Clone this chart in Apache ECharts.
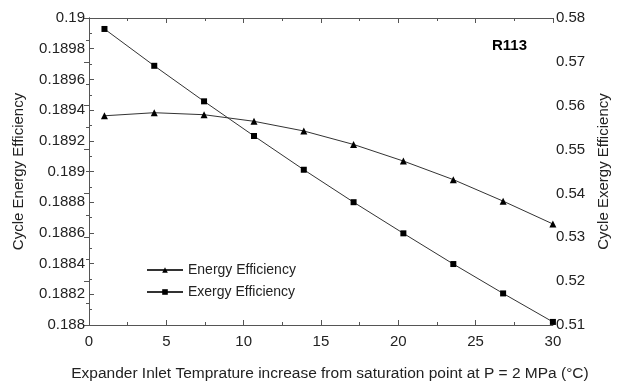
<!DOCTYPE html>
<html>
<head>
<meta charset="utf-8">
<script src="https://cdn.jsdelivr.net/npm/echarts@6/dist/echarts.min.js"></script>
<style>
html,body{margin:0;padding:0;background:#fff;}
#chart{width:619px;height:387px;}
</style>
</head>
<body>
<div id="chart"></div>
<script>
var xValues = [1, 4.22, 7.44, 10.67, 13.89, 17.11, 20.33, 23.56, 26.78, 30];
var energyEff = [0.189363, 0.189383, 0.18937, 0.189327, 0.189264, 0.189176, 0.189068, 0.188947, 0.188807, 0.188658];
var exergyEff = [0.5775, 0.5691, 0.5610, 0.5531, 0.5454, 0.5380, 0.5309, 0.5239, 0.5172, 0.5107];
var xTitle = 'Expander Inlet Temprature increase from saturation point at P = 2 MPa (\u00b0C)';
var leftTitle = 'Cycle Energy Efficiency';
var rightTitle = 'Cycle Exergy Efficiency';
var seriesNames = ['Energy Efficiency', 'Exergy Efficiency'];
var label = 'R113';

function pairs(xs, ys){ return xs.map(function(x,i){ return [x, ys[i]]; }); }

var font = 'Liberation Sans, Arial, sans-serif';
var axisColor = '#555';
var chart = echarts.init(document.getElementById('chart'));
chart.setOption({
  animation: false,
  backgroundColor: '#fff',
  textStyle: {fontFamily: font},
  grid: {left: 89, right: 63, top: 18, bottom: 60, containLabel: false},
  graphic: [{
    type: 'text', left: 492, top: 38,
    style: {text: label, font: 'bold 15px ' + font, fill: '#000'}
  }],
  legend: {
    left: 141, top: 258, orient: 'vertical', itemGap: 8,
    itemWidth: 36, itemHeight: 7,
    textStyle: {fontSize: 14, color: '#222', fontFamily: font},
    data: seriesNames
  },
  xAxis: [{
    type: 'value', min: 0, max: 30, interval: 5, position: 'bottom',
    name: xTitle, nameLocation: 'middle', nameGap: 41,
    nameTextStyle: {fontSize: 15.5, color: '#222', padding: [0,0,0,18]},
    axisLine: {show: true, lineStyle: {color: axisColor}},
    axisTick: {show: true, inside: true, length: 5, lineStyle: {color: axisColor}},
    minorTick: {show: true, splitNumber: 2, length: 3, lineStyle: {color: axisColor}},
    axisLabel: {fontSize: 15, color: '#222', margin: 9},
    splitLine: {show: false}
  }, {
    type: 'value', min: 0, max: 30, interval: 5, position: 'top',
    axisLine: {show: true, lineStyle: {color: axisColor}},
    axisTick: {show: true, inside: true, length: 5, lineStyle: {color: axisColor}},
    minorTick: {show: true, splitNumber: 2, length: 3, lineStyle: {color: axisColor}},
    axisLabel: {show: false},
    splitLine: {show: false}
  }],
  yAxis: [{
    type: 'value', min: 0.188, max: 0.19, interval: 0.0002, position: 'left',
    name: leftTitle, nameLocation: 'middle', nameGap: 63,
    nameTextStyle: {fontSize: 15, color: '#222'},
    axisLine: {show: true, lineStyle: {color: axisColor}},
    axisTick: {show: true, inside: true, length: 5, lineStyle: {color: axisColor}},
    minorTick: {show: true, splitNumber: 2, length: 3, lineStyle: {color: axisColor}},
    axisLabel: {fontSize: 15, color: '#222', margin: 4, formatter: function(v){ return String(+v.toFixed(4)); }},
    splitLine: {show: false}
  }, {
    type: 'value', min: 0.51, max: 0.58, interval: 0.01, position: 'right',
    name: rightTitle, nameLocation: 'middle', nameGap: 42,
    nameTextStyle: {fontSize: 15, color: '#222'},
    nameRotate: 90,
    axisLine: {show: true, lineStyle: {color: axisColor}},
    axisTick: {show: true, inside: true, length: 5, lineStyle: {color: axisColor}},
    minorTick: {show: true, splitNumber: 2, length: 3, lineStyle: {color: axisColor}},
    axisLabel: {fontSize: 15, color: '#222', margin: 3, formatter: function(v){ return v.toFixed(2); }},
    splitLine: {show: false}
  }],
  series: [{
    name: seriesNames[0], type: 'line', xAxisIndex: 0, yAxisIndex: 0,
    data: pairs(xValues, energyEff),
    symbol: 'triangle', symbolSize: 7,
    lineStyle: {color: '#333', width: 1},
    itemStyle: {color: '#000'}
  }, {
    name: seriesNames[1], type: 'line', xAxisIndex: 0, yAxisIndex: 1,
    data: pairs(xValues, exergyEff),
    symbol: 'rect', symbolSize: 6,
    lineStyle: {color: '#333', width: 1},
    itemStyle: {color: '#000'}
  }]
});
</script>
</body>
</html>
